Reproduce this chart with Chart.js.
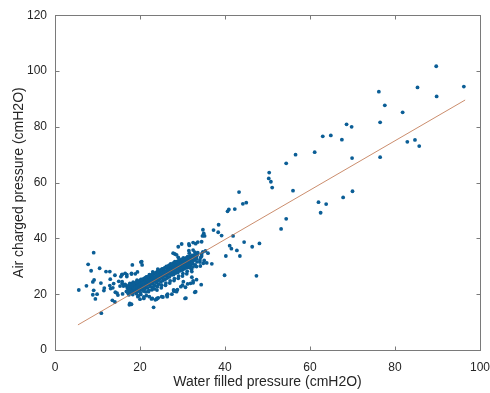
<!DOCTYPE html>
<html>
<head>
<meta charset="utf-8">
<script src="https://cdn.jsdelivr.net/npm/chart.js@4.4.1/dist/chart.umd.min.js"></script>
<style>
  html, body { margin: 0; padding: 0; background: #fff; }
  #wrap { width: 490px; height: 393px; }
</style>
</head>
<body>
<div id="wrap"><canvas id="scatterChart"></canvas></div>
<script>
// axis ranges and tick labels
const xTicks = [0, 20, 40, 60, 80, 100];
const yTicks = [0, 20, 40, 60, 80, 100, 120];

// fitted line (start / end)
const fitLine = [[5.4, 9.0], [96.5, 89.6]];

// far points above ~35 cmH2O
const highPoints = [
    [89.7, 101.7], [96.2, 94.4], [85.3, 94.1], [76.2, 92.6], [89.8, 90.9],
    [77.6, 87.7], [81.8, 85.2], [76.5, 81.6], [68.6, 80.9], [69.8, 80.0],
    [63.0, 76.6], [64.9, 76.9], [67.5, 75.4], [82.9, 74.6], [84.7, 75.3],
    [85.7, 73.1], [61.1, 70.9], [56.6, 70.0], [54.4, 66.9], [69.9, 68.8],
    [76.5, 69.1], [50.4, 63.6], [50.3, 61.5], [50.8, 60.3], [51.1, 58.2],
    [43.3, 56.6], [56.0, 57.1], [70.0, 56.9], [67.8, 54.7], [62.0, 53.0],
    [63.8, 52.3], [62.5, 49.2], [44.2, 52.4], [45.0, 52.8], [42.3, 50.5],
    [40.9, 50.4], [40.6, 49.7], [54.4, 47.0], [53.2, 43.4], [38.5, 44.9],
    [37.3, 43.0], [38.4, 42.2], [34.8, 43.1], [35.0, 41.8], [35.2, 40.9],
    [34.7, 40.9], [39.2, 41.0], [41.9, 40.9], [34.5, 38.8], [41.1, 37.4],
    [41.5, 36.3], [44.5, 38.7], [48.1, 38.2], [46.4, 37.0], [42.8, 35.7],
    [34.8, 35.2], [36.0, 34.7], [34.5, 34.4], [40.2, 33.7], [43.5, 33.7],
    [35.1, 32.1], [36.9, 30.9], [34.1, 31.5], [39.9, 26.8], [47.4, 26.6],
    [34.4, 23.4], [35.4, 35.5], [35.7, 31.2], [34.3, 33.2]
];

// scattered points around the main cluster
const lowPoints = [
    [9.1, 34.9], [7.8, 30.7], [10.5, 29.3], [8.5, 28.4], [12.0, 28.1],
    [12.9, 28.1], [14.1, 26.8], [15.8, 27.1], [16.9, 27.0], [9.2, 25.1],
    [8.9, 24.4], [10.8, 24.0], [13.0, 25.4], [13.8, 23.8], [15.0, 24.6],
    [15.8, 23.8], [7.4, 23.0], [11.6, 22.2], [11.5, 21.3], [5.6, 21.5],
    [9.1, 21.4], [9.9, 20.0], [8.9, 19.8], [13.1, 22.0], [14.6, 20.4],
    [9.5, 18.3], [13.5, 17.8], [14.1, 17.2], [10.9, 13.2], [16.5, 23.2],
    [15.9, 20.1], [18.0, 27.5], [17.5, 16.2], [23.2, 15.3], [20.2, 31.5],
    [20.5, 30.5], [30.8, 18.6], [33.1, 20.9], [33.6, 38.7], [33.1, 38.1],
    [31.6, 37.5], [32.9, 35.1], [33.4, 33.9], [31.5, 35.6], [32.2, 26.1],
    [33.3, 25.2], [32.5, 24.1], [31.2, 23.7], [30.0, 23.2], [30.7, 22.5],
    [28.8, 21.6], [28.0, 21.1], [27.5, 20.0], [26.4, 19.1], [25.4, 19.0],
    [24.3, 18.7], [23.6, 18.0], [21.5, 19.5], [20.9, 19.0], [15.8, 24.5],
    [15.3, 22.9], [16.5, 23.5], [16.9, 26.3], [18.0, 27.2], [18.9, 27.3],
    [19.4, 28.0], [15.5, 26.3], [12.9, 23.1], [13.6, 22.3], [14.2, 20.7],
    [14.8, 19.7], [18.2, 30.5], [28.2, 34.4], [29.0, 33.2], [27.9, 21.5],
    [28.6, 20.9], [26.5, 20.0], [25.1, 19.1], [24.0, 18.5], [22.7, 18.3],
    [20.0, 18.2], [19.5, 19.1], [18.0, 16.4], [31.5, 38.0], [32.5, 38.5],
    [32.5, 35.8], [33.6, 34.9], [31.6, 34.7], [34.5, 33.7], [34.1, 32.3],
    [34.9, 31.1], [33.3, 29.9], [34.2, 30.1], [32.2, 28.1], [32.5, 24.8],
    [31.9, 23.9], [30.2, 24.5], [29.6, 22.7], [28.2, 21.3], [32.9, 20.7],
    [30.6, 18.5], [26.3, 19.7], [29.8, 38.0], [29.0, 37.0], [27.8, 34.7],
    [28.6, 34.1], [20.4, 31.7], [16.5, 27.5], [15.7, 26.9], [17.6, 23.9],
    [16.1, 22.9], [18.4, 21.5], [19.6, 19.4], [20.9, 18.5], [22.2, 19.1],
    [22.9, 18.5], [17.6, 16.7], [23.9, 18.2]
];

// dense cluster between ~17 and ~33 cmH2O
const clusterPoints = [
    [16.8, 21.0], [17.0, 22.4], [17.2, 20.3], [17.3, 23.1], [17.5, 21.7], [17.4, 19.8],
    [17.7, 22.9], [17.9, 21.2], [18.0, 23.8], [18.1, 20.6], [18.2, 22.1], [18.4, 24.3],
    [18.3, 19.9], [18.5, 21.5], [18.5, 23.0],
    [18.7, 22.6], [18.8, 20.9], [18.9, 24.0], [19.0, 21.8], [19.1, 23.3], [19.2, 20.2],
    [19.3, 25.0], [19.4, 22.4], [19.5, 21.1], [19.5, 23.9],
    [19.7, 22.9], [19.8, 24.6], [19.9, 21.5], [20.0, 23.5], [20.1, 20.6], [20.2, 25.3],
    [20.3, 22.2], [20.4, 24.1], [20.5, 21.7], [20.5, 23.0], [20.2, 19.9],
    [20.7, 24.8], [20.8, 22.6], [20.9, 21.1], [21.0, 23.9], [21.1, 25.7], [21.2, 22.0],
    [21.3, 24.4], [21.4, 20.8], [21.5, 23.3], [21.5, 26.2], [21.0, 22.9],
    [21.7, 24.0], [21.8, 22.3], [21.9, 25.4], [22.0, 23.6], [22.1, 21.4], [22.2, 26.4],
    [22.3, 24.7], [22.4, 22.8], [22.5, 25.9], [22.5, 23.9], [22.0, 20.9], [22.2, 27.0],
    [22.7, 24.3], [22.8, 26.6], [22.9, 22.5], [23.0, 25.3], [23.1, 23.7], [23.2, 27.3],
    [23.3, 24.8], [23.4, 21.9], [23.5, 26.0], [23.5, 23.1], [23.0, 28.0], [22.8, 21.6],
    [23.7, 25.5], [23.8, 27.7], [23.9, 24.2], [24.0, 26.6], [24.1, 22.8], [24.2, 28.3],
    [24.3, 25.0], [24.4, 23.6], [24.5, 27.1], [24.5, 26.0], [24.0, 21.5], [24.2, 29.0],
    [24.7, 25.7], [24.8, 28.0], [24.9, 24.4], [25.0, 27.2], [25.1, 23.2], [25.2, 29.1],
    [25.3, 26.4], [25.4, 24.9], [25.5, 28.5], [25.5, 27.7], [25.0, 22.3], [25.2, 25.9],
    [25.7, 26.9], [25.8, 29.4], [25.9, 25.3], [26.0, 28.1], [26.1, 24.0], [26.2, 30.0],
    [26.3, 27.3], [26.4, 25.8], [26.5, 29.0], [26.5, 28.4], [26.0, 23.2], [26.2, 26.6],
    [26.7, 27.7], [26.8, 30.3], [26.9, 26.2], [27.0, 29.2], [27.1, 24.8], [27.2, 30.9],
    [27.3, 28.3], [27.4, 26.9], [27.5, 29.8], [27.5, 28.9], [27.0, 24.0], [27.2, 27.4],
    [27.7, 28.6], [27.8, 31.1], [27.9, 27.0], [28.0, 30.1], [28.1, 25.6], [28.2, 31.7],
    [28.3, 29.1], [28.4, 27.6], [28.5, 30.6], [28.5, 29.7], [28.0, 24.9], [28.2, 28.3],
    [28.7, 29.3], [28.8, 31.8], [28.9, 27.8], [29.0, 30.7], [29.1, 26.5], [29.2, 32.3],
    [29.3, 29.9], [29.4, 28.4], [29.5, 31.3], [29.5, 30.3], [29.0, 25.7], [29.2, 28.9],
    [29.7, 30.0], [29.8, 32.5], [29.9, 28.6], [30.0, 31.3], [30.1, 27.4], [30.2, 33.0],
    [30.3, 30.4], [30.4, 29.1], [30.5, 31.9], [30.0, 26.5], [30.2, 29.7],
    [30.7, 30.8], [30.8, 32.9], [30.9, 29.4], [31.0, 31.8], [31.1, 28.2], [31.2, 33.5],
    [31.3, 30.2], [31.4, 32.4], [31.5, 29.6], [31.0, 27.3],
    [31.7, 31.3], [31.8, 33.6], [31.9, 30.0], [32.0, 32.3], [32.1, 28.9], [32.3, 33.9],
    [32.4, 31.0], [32.5, 29.8],
    [32.7, 32.2], [32.9, 34.2], [33.0, 30.5], [33.2, 33.1], [33.4, 31.6], [33.5, 34.6]
];

// core of the cluster, where the marks overlap into a solid band
const clusterCore = [
    [17.1, 21.3], [17.2, 22.8], [17.4, 21.0], [17.6, 22.0], [17.8, 23.4], [17.8, 20.5],
    [18.0, 22.6], [18.2, 21.0], [18.3, 23.5], [18.5, 22.3], [18.6, 20.8], [18.7, 23.9],
    [18.9, 22.7], [19.0, 21.2], [19.2, 24.2], [19.3, 22.9], [19.4, 21.6], [19.6, 24.5],
    [19.7, 23.3], [19.8, 22.0], [20.0, 24.9], [20.1, 23.6], [20.2, 22.4], [20.4, 25.2],
    [20.5, 24.0], [20.6, 22.5], [20.8, 25.5], [20.9, 24.3], [21.0, 23.0], [21.2, 25.8],
    [21.3, 24.6], [21.4, 23.3], [21.6, 26.1], [21.7, 25.0], [21.8, 23.5], [22.0, 26.3],
    [22.1, 25.1], [22.2, 23.9], [22.4, 26.8], [22.5, 25.4], [22.6, 24.1], [22.8, 27.0],
    [22.9, 25.8], [23.0, 24.4], [23.2, 27.4], [23.3, 26.1], [23.4, 24.8], [23.6, 27.6],
    [23.7, 26.4], [23.8, 25.0], [24.0, 28.0], [24.1, 26.7], [24.2, 25.4], [24.4, 28.2],
    [24.5, 26.9], [24.6, 25.6], [24.8, 28.6], [24.9, 27.3], [25.0, 26.0], [25.2, 28.9],
    [25.3, 27.6], [25.4, 26.2], [25.6, 29.2], [25.7, 27.9], [25.8, 26.6], [26.0, 29.5],
    [26.1, 28.2], [26.2, 26.9], [26.4, 29.8], [26.5, 28.6], [26.6, 27.2], [26.8, 30.1],
    [26.9, 28.8], [27.0, 27.5], [27.2, 30.4], [27.3, 29.1], [27.4, 27.8], [27.6, 30.7],
    [27.7, 29.4], [27.8, 28.1], [28.0, 31.0], [28.1, 29.7], [28.2, 28.4], [28.4, 31.3],
    [28.5, 30.0], [28.6, 28.7], [28.8, 31.5], [28.9, 30.3], [29.0, 29.0], [29.2, 31.8],
    [29.3, 30.6], [29.4, 29.3], [29.6, 32.0], [29.7, 30.9], [29.8, 29.6], [30.0, 32.3],
    [30.1, 31.1], [30.2, 29.9], [30.4, 32.5], [30.5, 31.3], [30.6, 30.1], [30.8, 32.8],
    [30.9, 31.6], [31.0, 30.4], [31.2, 32.9], [31.3, 31.8], [31.4, 30.7], [31.6, 33.1],
    [31.7, 32.0], [31.8, 30.9], [32.0, 33.4], [32.2, 32.1], [32.3, 31.2], [32.6, 33.5],
    [32.8, 32.4], [33.1, 33.9], [33.3, 32.7]
];

const toXY = arr => arr.map(p => ({ x: p[0], y: p[1] }));
const allPoints = [...highPoints, ...lowPoints, ...clusterPoints, ...clusterCore];

const textColor = '#262626';
const axisColor = '#7a7a7a';

// box round the plot with inward ticks on all four sides
const boxPlugin = {
    id: 'matlabBox',
    afterDraw(chart) {
        const { ctx, chartArea: a, scales } = chart;
        const L = Math.round(a.left) + 0.5, R = Math.round(a.right) + 0.5;
        const T = Math.round(a.top) + 0.5, B = Math.round(a.bottom) + 0.5;
        const tl = 4;
        ctx.save();
        ctx.strokeStyle = axisColor;
        ctx.lineWidth = 1;
        ctx.strokeRect(L, T, R - L, B - T);
        ctx.beginPath();
        xTicks.forEach(v => {
            const px = Math.round(scales.x.getPixelForValue(v)) + 0.5;
            ctx.moveTo(px, B); ctx.lineTo(px, B - tl);
            ctx.moveTo(px, T); ctx.lineTo(px, T + tl);
        });
        yTicks.forEach(v => {
            const py = Math.round(scales.y.getPixelForValue(v)) + 0.5;
            ctx.moveTo(L, py); ctx.lineTo(L + tl, py);
            ctx.moveTo(R, py); ctx.lineTo(R - tl, py);
        });
        ctx.stroke();
        ctx.restore();
    }
};

const ctx = document.getElementById('scatterChart').getContext('2d');
new Chart(ctx, {
    type: 'scatter',
    data: {
        datasets: [
            {
                type: 'line',
                label: 'Fit',
                data: toXY(fitLine),
                borderColor: 'rgba(190, 112, 72, 0.8)',
                borderWidth: 1,
                pointRadius: 0,
                fill: false,
                order: 0
            },
            {
                label: 'Measurements',
                data: toXY(allPoints),
                backgroundColor: '#0b5e96',
                borderWidth: 0,
                pointRadius: 1.9,
                order: 1
            }
        ]
    },
    options: {
        responsive: true,
        maintainAspectRatio: false,
        animation: false,
        layout: { padding: { top: 15, right: 0, left: 0, bottom: 0 } },
        plugins: { legend: { display: false }, tooltip: { enabled: false } },
        scales: {
            x: {
                type: 'linear',
                min: 0, max: 100,
                afterBuildTicks: s => { s.ticks = xTicks.map(v => ({ value: v })); },
                afterFit: s => { s.height = 43; s.paddingLeft = 0; s.paddingRight = 10; },
                grid: { display: false, drawTicks: false },
                border: { display: false },
                ticks: { color: textColor, font: { family: 'Liberation Sans', size: 12 }, padding: 10, maxRotation: 0 },
                title: {
                    display: true,
                    text: 'Water filled pressure (cmH2O)',
                    color: textColor,
                    font: { family: 'Liberation Sans', size: 14 },
                    padding: { top: 2, bottom: 2 }
                }
            },
            y: {
                type: 'linear',
                min: 0, max: 120,
                afterBuildTicks: s => { s.ticks = yTicks.map(v => ({ value: v })); },
                afterFit: s => { s.width = 55; },
                grid: { display: false, drawTicks: false },
                border: { display: false },
                ticks: { color: textColor, font: { family: 'Liberation Sans', size: 12 }, padding: 8 },
                title: {
                    display: true,
                    text: 'Air charged pressure (cmH2O)',
                    color: textColor,
                    font: { family: 'Liberation Sans', size: 14 },
                    padding: { top: 11, bottom: 0 }
                }
            }
        }
    },
    plugins: [boxPlugin]
});
</script>
</body>
</html>
